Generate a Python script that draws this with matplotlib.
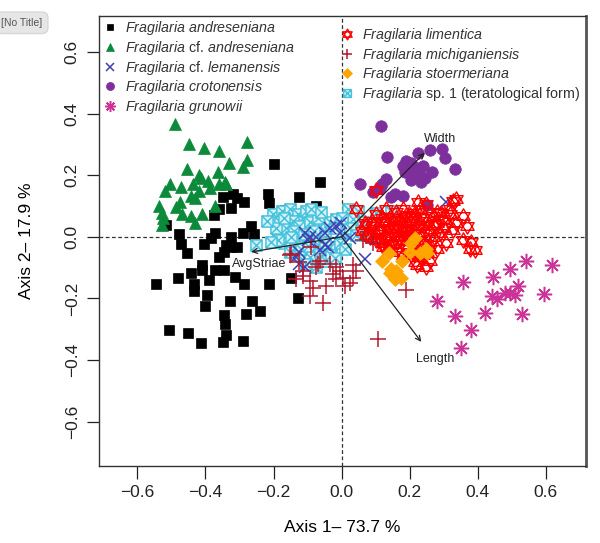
#PCA biplot of Fragilaria valve morphometrics
import numpy as np
import matplotlib
matplotlib.use('Agg')
import matplotlib.pyplot as plt
from matplotlib.path import Path

plt.rcParams['font.family'] = 'Liberation Sans'
plt.rcParams['mathtext.fontset'] = 'custom'
plt.rcParams['mathtext.it'] = 'Liberation Sans:italic'
plt.rcParams['mathtext.rm'] = 'Liberation Sans'

# --- scores (Axis 1, Axis 2) ---
andres_x = [-0.199,-0.065,-0.217,-0.124,-0.212,-0.076,-0.349,-0.32,-0.308,-0.288,
            -0.361,-0.324,-0.374,-0.165,-0.155,-0.516,-0.479,-0.371,-0.266,-0.29,
            -0.258,-0.326,-0.384,-0.403,-0.471,-0.455,-0.339,-0.324,-0.308,-0.359,
            -0.346,-0.124,-0.189,-0.41,-0.41,-0.442,-0.371,-0.347,-0.481,-0.545,
            -0.391,-0.435,-0.314,-0.288,-0.214,-0.148,-0.435,-0.396,-0.4,-0.329,
            -0.263,-0.282,-0.241,-0.129,-0.347,-0.344,-0.506,-0.452,-0.339,-0.349,
            -0.413,-0.29]
andres_y = [0.237,0.179,0.14,0.129,0.109,0.101,0.129,0.14,0.126,0.114,
            0.092,0.093,0.07,0.087,0.073,0.038,0.01,0.012,0.034,0.014,
            0.01,0.001,-0.004,-0.024,-0.024,-0.052,-0.027,-0.032,-0.032,-0.066,
            -0.049,-0.019,0.023,-0.09,-0.108,-0.119,-0.108,-0.108,-0.132,-0.152,
            -0.141,-0.154,-0.13,-0.154,-0.152,-0.132,-0.177,-0.188,-0.223,-0.208,
            -0.208,-0.249,-0.24,-0.199,-0.254,-0.283,-0.301,-0.312,-0.319,-0.343,
            -0.346,-0.337]

cfandres_x = [-0.489,-0.449,-0.404,-0.361,-0.279,-0.279,-0.332,-0.29,-0.453,-0.363,
              -0.418,-0.504,-0.473,-0.437,-0.393,-0.413,-0.388,-0.344,-0.359,-0.518,
              -0.418,-0.442,-0.476,-0.432,-0.537,-0.486,-0.527,-0.469,-0.442,-0.41,
              -0.371,-0.529,-0.432,-0.524,-0.339]
cfandres_y = [0.366,0.303,0.288,0.279,0.307,0.251,0.24,0.226,0.221,0.209,
              0.201,0.173,0.162,0.173,0.181,0.19,0.159,0.179,0.17,0.148,
              0.148,0.132,0.114,0.126,0.101,0.096,0.079,0.073,0.068,0.073,
              0.101,0.04,0.046,0.062,0.173]

leman_x = [-0.001,-0.016,-0.035,-0.05,-0.074,-0.109,-0.099,-0.05,-0.065,-0.124,
           -0.133,-0.109,-0.124,-0.006,0.024,0.068,0.306,-0.094,-0.041]
leman_y = [0.046,0.034,0.029,0.012,0.001,0.012,-0.01,-0.027,-0.043,-0.049,
           -0.066,-0.099,-0.088,0.012,-0.004,-0.073,0.112,0.001,-0.032]

croton_x = [0.115,0.134,0.224,0.259,0.296,0.303,0.332,0.188,0.205,0.18,
            0.22,0.239,0.185,0.212,0.266,0.229,0.244,0.205,0.234,0.131,
            0.12,0.053,0.112,0.092,0.146,0.179,0.156,0.251]
croton_y = [0.36,0.259,0.273,0.281,0.284,0.257,0.22,0.246,0.24,0.229,
            0.223,0.229,0.212,0.207,0.209,0.196,0.19,0.184,0.179,0.188,
            0.173,0.171,0.159,0.146,0.129,0.132,0.14,0.104]

grun_x = [0.541,0.617,0.494,0.445,0.357,0.519,0.595,0.494,0.509,0.443,
          0.457,0.281,0.529,0.421,0.334,0.379,0.35,0.479]
grun_y = [-0.077,-0.091,-0.104,-0.13,-0.146,-0.16,-0.186,-0.182,-0.19,-0.191,
          -0.202,-0.207,-0.252,-0.246,-0.257,-0.301,-0.36,-0.183]

limen_x = [0.224,0.249,0.327,0.293,0.318,0.357,0.367,0.337,0.279,0.381,
           0.357,0.391,0.215,0.19,0.151,0.121,0.092,0.082,0.112,0.151,
           0.19,0.229,0.259,0.288,0.308,0.279,0.229,0.259,0.215,0.121,
           0.141,0.043,0.068,0.102,0.131,0.18,0.239,0.269,0.166,0.2,
           0.112,0.141,0.327,0.19,0.171,0.249,0.337,0.318,0.298,0.376,
           0.073,0.073,0.102,0.14,0.16,0.18,0.2,0.22,0.17,0.13,
           0.19,0.24,0.26,0.15,0.21,0.24,0.1,0.12,0.16,0.27,
           0.23,0.2,0.18,0.25,0.22,0.3,0.28,0.06,0.17,0.21,
           0.11,0.13,0.15,0.17,0.19,0.21,0.23,0.14,0.16,0.18,
           0.2,0.22,0.12,0.09,0.25,0.27,0.24,0.26,0.21,0.1]
limen_y = [0.112,0.107,0.118,0.079,0.073,0.068,0.034,0.046,0.046,-0.016,
           -0.01,-0.043,0.079,0.046,0.051,0.046,0.034,0.001,-0.01,0.012,
           0.001,-0.01,0.001,0.012,-0.021,-0.038,-0.066,-0.077,-0.082,-0.032,
           -0.027,0.09,0.046,0.073,0.09,0.09,0.034,0.068,0.029,0.023,
           0.023,0.001,0.023,-0.038,-0.049,-0.099,0.123,0.09,0.057,-0.038,
           0.04,0.007,0.151,0.03,0.04,0.02,0.05,0.03,-0.01,0.05,
           0.07,0.06,0.02,-0.02,-0.03,-0.02,0.01,0.06,0.08,0.04,
           0.09,0.0,-0.06,-0.05,-0.09,0.03,0.08,0.02,0.0,0.06,
           0.02,0.0,0.03,0.05,0.03,0.01,0.04,-0.04,0.06,0.0,
           0.07,-0.01,-0.02,0.05,0.05,0.0,-0.06,-0.04,-0.05,-0.01]

michi_x = [-0.153,-0.065,-0.035,-0.074,-0.016,0.033,0.043,-0.006,-0.026,-0.114,
           -0.133,-0.094,-0.016,0.024,-0.045,-0.084,0.033,-0.094,-0.055,0.19,
           0.107,-0.089,0.062,0.091,-0.148,-0.114,-0.07,0.003,0.009,-0.124]
michi_y = [-0.06,-0.077,-0.088,-0.099,-0.099,-0.093,-0.11,-0.11,-0.121,-0.127,
           -0.138,-0.143,-0.138,-0.149,-0.16,-0.166,-0.132,-0.193,-0.216,-0.174,
           -0.332,-0.032,-0.01,-0.02,-0.057,-0.11,-0.088,-0.132,-0.16,-0.083]

stoer_x = [0.203,0.2,0.249,0.251,0.138,0.119,0.177,0.146,0.161,0.141,
           0.174,0.156,0.229,0.215]
stoer_y = [-0.019,-0.049,-0.038,-0.054,-0.052,-0.077,-0.077,-0.104,-0.11,-0.116,
           -0.132,-0.138,-0.054,-0.003]

sp1_x = [-0.251,-0.203,-0.174,-0.153,-0.129,-0.104,-0.085,-0.144,-0.182,-0.163,
         -0.124,-0.094,-0.065,-0.035,-0.016,-0.05,-0.085,-0.115,-0.144,-0.168,
         -0.153,-0.129,-0.094,-0.065,-0.035,-0.006,0.003,0.024,0.018,-0.074,
         -0.104,-0.045,-0.188,-0.207,-0.192,0.047,0.102,0.146,0.032,0.062,
         0.024,0.043,-0.14,-0.11,-0.07,-0.02,-0.05,-0.12,-0.09,-0.06,
         -0.03,0.01,-0.17,-0.22,0.0,0.06,-0.08,-0.15,-0.1,-0.02]
sp1_y = [-0.027,0.073,0.084,0.09,0.073,0.084,0.068,0.051,0.047,0.03,
         0.034,0.047,0.034,0.047,0.057,0.001,-0.01,-0.02,-0.01,-0.02,
         -0.049,-0.06,-0.066,-0.049,-0.032,-0.02,0.013,0.034,0.09,-0.099,
         -0.088,-0.077,-0.01,-0.016,0.029,0.084,0.079,0.084,0.057,0.047,
         0.03,0.007,0.02,0.01,0.06,0.03,-0.02,-0.04,0.09,0.08,
         -0.06,-0.04,0.06,0.05,0.06,0.02,0.02,0.0,-0.03,-0.07]

# --- variable loadings (arrows) ---
var_names = ['Width', 'Length', 'AvgStriae']
var_x = [0.244, 0.234, -0.266]
var_y = [0.273, -0.341, -0.049]
lab_x = [0.288, 0.276, -0.241]
lab_y = [0.317, -0.397, -0.087]

# custom markers: hexagram (R pch 11) and boxed cross (R pch 7)
hexa = Path([(0,1),(-0.866,-0.5),(0.866,-0.5),(0,1),
             (0,-1),(-0.866,0.5),(0.866,0.5),(0,-1)],
            [1,2,2,79,1,2,2,79])
boxx = Path([(-1,-1),(1,-1),(1,1),(-1,1),(-1,-1),
             (-1,-1),(1,1),(-1,1),(1,-1)],
            [1,2,2,2,79,1,2,1,2])
aster = (8, 2, 0)

groups = [
    (andres_x, andres_y, dict(marker='s', ms=7, mfc='black', mec='black', mew=0.5),
     r'$\mathit{Fragilaria\ andreseniana}$'),
    (cfandres_x, cfandres_y, dict(marker='^', ms=8.5, mfc='#0b8a3a', mec='#0b8a3a', mew=0.5),
     r'$\mathit{Fragilaria}$ cf. $\mathit{andreseniana}$'),
    (sp1_x, sp1_y, dict(marker=boxx, ms=8, mfc='#d6f2f8', mec='#47c3dc', mew=1.1),
     r'$\mathit{Fragilaria}$ sp. 1 (teratological form)'),
    (leman_x, leman_y, dict(marker='x', ms=9, mec='#3f3fb5', mew=1.1),
     r'$\mathit{Fragilaria}$ cf. $\mathit{lemanensis}$'),
    (croton_x, croton_y, dict(marker='o', ms=8.3, mfc='#7d2f9c', mec='#7d2f9c', mew=0.5),
     r'$\mathit{Fragilaria\ crotonensis}$'),
    (grun_x, grun_y, dict(marker=aster, ms=11, mec='#cc3399', mew=1.1),
     r'$\mathit{Fragilaria\ grunowii}$'),
    (limen_x, limen_y, dict(marker=hexa, ms=11, mfc='none', mec='#ff0000', mew=1.0),
     r'$\mathit{Fragilaria\ limentica}$'),
    (michi_x, michi_y, dict(marker='+', ms=11, mec='#b3182e', mew=1.1),
     r'$\mathit{Fragilaria\ michiganiensis}$'),
    (stoer_x, stoer_y, dict(marker='D', ms=7.5, mfc='#ffa500', mec='#ffa500', mew=0.5),
     r'$\mathit{Fragilaria\ stoermeriana}$'),
]

fig = plt.figure(figsize=(6, 5.43), dpi=100)
ax = fig.add_axes([99.3/600, 1-466/543, 486.7/600, 450.3/543])

handles = {}
for gx, gy, st, lab in groups:
    h, = ax.plot(gx, gy, ls='none', **st)
    handles[lab] = h

ax.axhline(0, color='#333333', ls=(0, (3, 2)), lw=0.9, zorder=0)
ax.axvline(0, color='#333333', ls=(0, (3, 2)), lw=0.9, zorder=0)

for name, vx, vy, tx, ty in zip(var_names, var_x, var_y, lab_x, lab_y):
    ax.annotate('', xy=(vx, vy), xytext=(0, 0),
                arrowprops=dict(arrowstyle='->', lw=0.9, color='#222222',
                                shrinkA=0, shrinkB=0, mutation_scale=9))
    ax.text(tx, ty, name, fontsize=9, ha='center', va='center', color='#222222')

ax.set_xlim(-0.712, 0.718)
ax.set_ylim(-0.744, 0.718)
ticks = [-0.6, -0.4, -0.2, 0.0, 0.2, 0.4, 0.6]
tlabs = ['\u22120.6', '\u22120.4', '\u22120.2', '0.0', '0.2', '0.4', '0.6']
ax.set_xticks(ticks)
ax.set_yticks(ticks)
ax.set_xticklabels(tlabs)
ax.set_yticklabels(tlabs, rotation=90, va='center')
ax.tick_params(direction='out', length=9, width=0.9, labelsize=12.5,
               colors='#222222', pad=5)
for s in ax.spines.values():
    s.set_linewidth(1.0)
    s.set_color('#333333')
ax.spines['right'].set_linewidth(2.0)
ax.spines['right'].set_color('#555555')

ax.set_xlabel('Axis 1\u2013 73.7 %', fontsize=12.5, labelpad=14)
ax.set_ylabel('Axis 2\u2013 17.9 %', fontsize=12.5, labelpad=22)

left_labs = [groups[0][3], groups[1][3], groups[3][3], groups[4][3], groups[5][3]]
right_labs = [groups[6][3], groups[7][3], groups[8][3], groups[2][3]]
leg_kw = dict(loc='upper left', frameon=False, fontsize=10.3, labelcolor='#333333',
              handlelength=1.0, handletextpad=0.55, labelspacing=0.12,
              markerscale=0.7, borderaxespad=0.0, borderpad=0.0)
leg1 = ax.legend([handles[l] for l in left_labs], left_labs,
                 bbox_to_anchor=(0.008, 0.992), **leg_kw)
ax.add_artist(leg1)
ax.legend([handles[l] for l in right_labs], right_labs,
          bbox_to_anchor=(0.495, 0.977), **leg_kw)

fig.text(0.036, 0.958, '[No Title]', fontsize=7.5, color='#555555',
         ha='center', va='center',
         bbox=dict(boxstyle='round,pad=0.55', fc='#e6e6e6', ec='#d8d8d8'))

plt.savefig('out.png', dpi=100)
